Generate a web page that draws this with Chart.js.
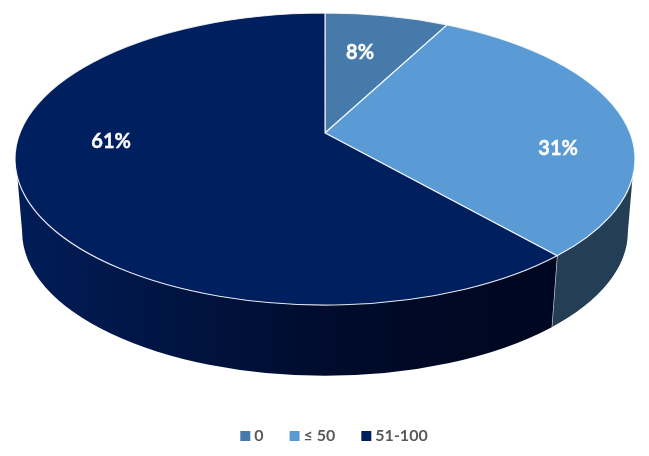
<!DOCTYPE html>
<html lang="en">
<head>
    <meta charset="UTF-8">
    <title>Pie chart</title>
    <script src="https://cdn.jsdelivr.net/npm/chart.js"></script>
    <style>
        html, body { margin: 0; padding: 0; background: #fff; }
        canvas { display: block; }
    </style>
</head>
<body>
    <canvas id="pieChart" width="649" height="456"></canvas>
    <script>
        const categories = ['0', '≤ 50', '51-100'];
        const shares = [8, 31, 61];
        const sliceColors = ['#457aab', '#5b9bd5', '#001f5f'];

        // look of the tilted pie, all relative to the horizontal radius
        const TILT = 0.471;        // ry / rx
        const APEX_LIFT = 0.084;   // apex sits this much above the ellipse centre
        const PERSPECTIVE = 0.8;   // squeezes the angles towards the back
        const WALL_DEPTH = 0.235;
        const WALL_SHRINK = 0.977;
        const LEGEND_SHIFT = 11;   // legend is a bit right of the pie centre
        const labelAnchors = [[0.113, -0.726], [0.752, -0.075], [-0.69, -0.12]];

        function geometry(chart) {
            const a = chart.chartArea;
            const rx = (a.right - a.left) / 2;
            const ry = rx * TILT;
            return { cx: (a.left + a.right) / 2, cy: a.top + ry, rx, ry, apexY: a.top + ry - rx * APEX_LIFT };
        }

        // angle of the slice in chart.js -> position on the ellipse, from 12 o'clock
        function toRim(angle) {
            const half = (angle + Math.PI / 2) / 2;
            return 2 * Math.atan2(PERSPECTIVE * Math.sin(half), Math.cos(half));
        }

        // slices are drawn as tilted ones instead of flat circles
        Chart.ArcElement.prototype.draw = function (ctx) {
            const g = geometry(this.$context.chart);
            ctx.save();
            ctx.beginPath();
            ctx.moveTo(g.cx, g.apexY);
            ctx.ellipse(g.cx, g.cy, g.rx, g.ry, 0, toRim(this.startAngle) - Math.PI / 2, toRim(this.endAngle) - Math.PI / 2);
            ctx.closePath();
            ctx.fillStyle = this.options.backgroundColor;
            ctx.fill();
            ctx.strokeStyle = 'rgba(255,255,255,0.85)';
            ctx.lineWidth = 1.2;
            ctx.stroke();
            ctx.restore();
        };

        function wallFill(ctx, index, g) {
            if (index === 1) return '#243f55';
            const grad = ctx.createLinearGradient(g.cx - g.rx, 0, g.cx + g.rx * 0.75, 0);
            grad.addColorStop(0, '#011c58');
            grad.addColorStop(0.08, '#011a52');
            grad.addColorStop(0.34, '#00133f');
            grad.addColorStop(0.56, '#000c2e');
            grad.addColorStop(0.8, '#000824');
            grad.addColorStop(1, '#000720');
            return grad;
        }

        const wallPlugin = {
            id: 'wall',
            afterLayout(chart) {
                chart.legend.left += LEGEND_SHIFT;
                chart.legend.right += LEGEND_SHIFT;
            },
            beforeDatasetsDraw(chart) {
                const ctx = chart.ctx;
                const g = geometry(chart);
                const depth = g.rx * WALL_DEPTH;
                const botRx = g.rx * WALL_SHRINK;
                const botRy = g.ry * 0.985;
                const lo = Math.PI * 0.54, hi = Math.PI * 1.46;
                chart.getDatasetMeta(0).data.forEach((arc, i) => {
                    const t0 = toRim(arc.startAngle), t1 = toRim(arc.endAngle);
                    const from = Math.max(t0, lo), to = Math.min(t1, hi);
                    if (from >= to) return;
                    ctx.save();
                    ctx.beginPath();
                    ctx.ellipse(g.cx, g.cy, g.rx, g.ry, 0, from - Math.PI / 2, to - Math.PI / 2);
                    ctx.ellipse(g.cx, g.cy + depth, botRx, botRy, 0,
                        (to >= hi ? Math.PI * 1.5 : to) - Math.PI / 2,
                        (from <= lo ? Math.PI * 0.5 : from) - Math.PI / 2, true);
                    ctx.closePath();
                    ctx.fillStyle = wallFill(ctx, i, g);
                    ctx.fill();
                    if (t1 > lo && t1 < hi) {
                        ctx.beginPath();
                        ctx.moveTo(g.cx + g.rx * Math.sin(t1), g.cy - g.ry * Math.cos(t1));
                        ctx.lineTo(g.cx + botRx * Math.sin(t1), g.cy + depth - botRy * Math.cos(t1));
                        ctx.strokeStyle = 'rgba(255,255,255,0.8)';
                        ctx.lineWidth = 1.2;
                        ctx.stroke();
                    }
                    ctx.restore();
                });
            },
            afterDatasetsDraw(chart) {
                const ctx = chart.ctx;
                const g = geometry(chart);
                ctx.save();
                ctx.font = 'bold 20px Lato';
                ctx.fillStyle = '#ffffff';
                ctx.strokeStyle = '#ffffff';
                ctx.lineWidth = 0.4;
                ctx.textAlign = 'center';
                ctx.textBaseline = 'middle';
                shares.forEach((v, i) => {
                    const x = g.cx + labelAnchors[i][0] * g.rx;
                    const y = g.cy + labelAnchors[i][1] * g.ry;
                    ctx.fillText(v + '%', x, y);
                    ctx.strokeText(v + '%', x, y);
                });
                ctx.restore();
            }
        };

        new Chart(document.getElementById('pieChart'), {
            type: 'pie',
            data: {
                labels: categories,
                datasets: [{ data: shares, backgroundColor: sliceColors, borderWidth: 0 }]
            },
            options: {
                responsive: false,
                animation: false,
                layout: { padding: { left: 15, right: 14, top: 13, bottom: 2 } },
                plugins: {
                    tooltip: { enabled: false },
                    legend: {
                        position: 'bottom',
                        labels: {
                            color: '#595959',
                            font: { family: 'Lato', size: 16, weight: 'bold' },
                            usePointStyle: true,
                            pointStyle: 'rect',
                            boxWidth: 2,
                            boxHeight: 10,
                            padding: 30
                        }
                    }
                }
            },
            plugins: [wallPlugin]
        });
    </script>
</body>
</html>
